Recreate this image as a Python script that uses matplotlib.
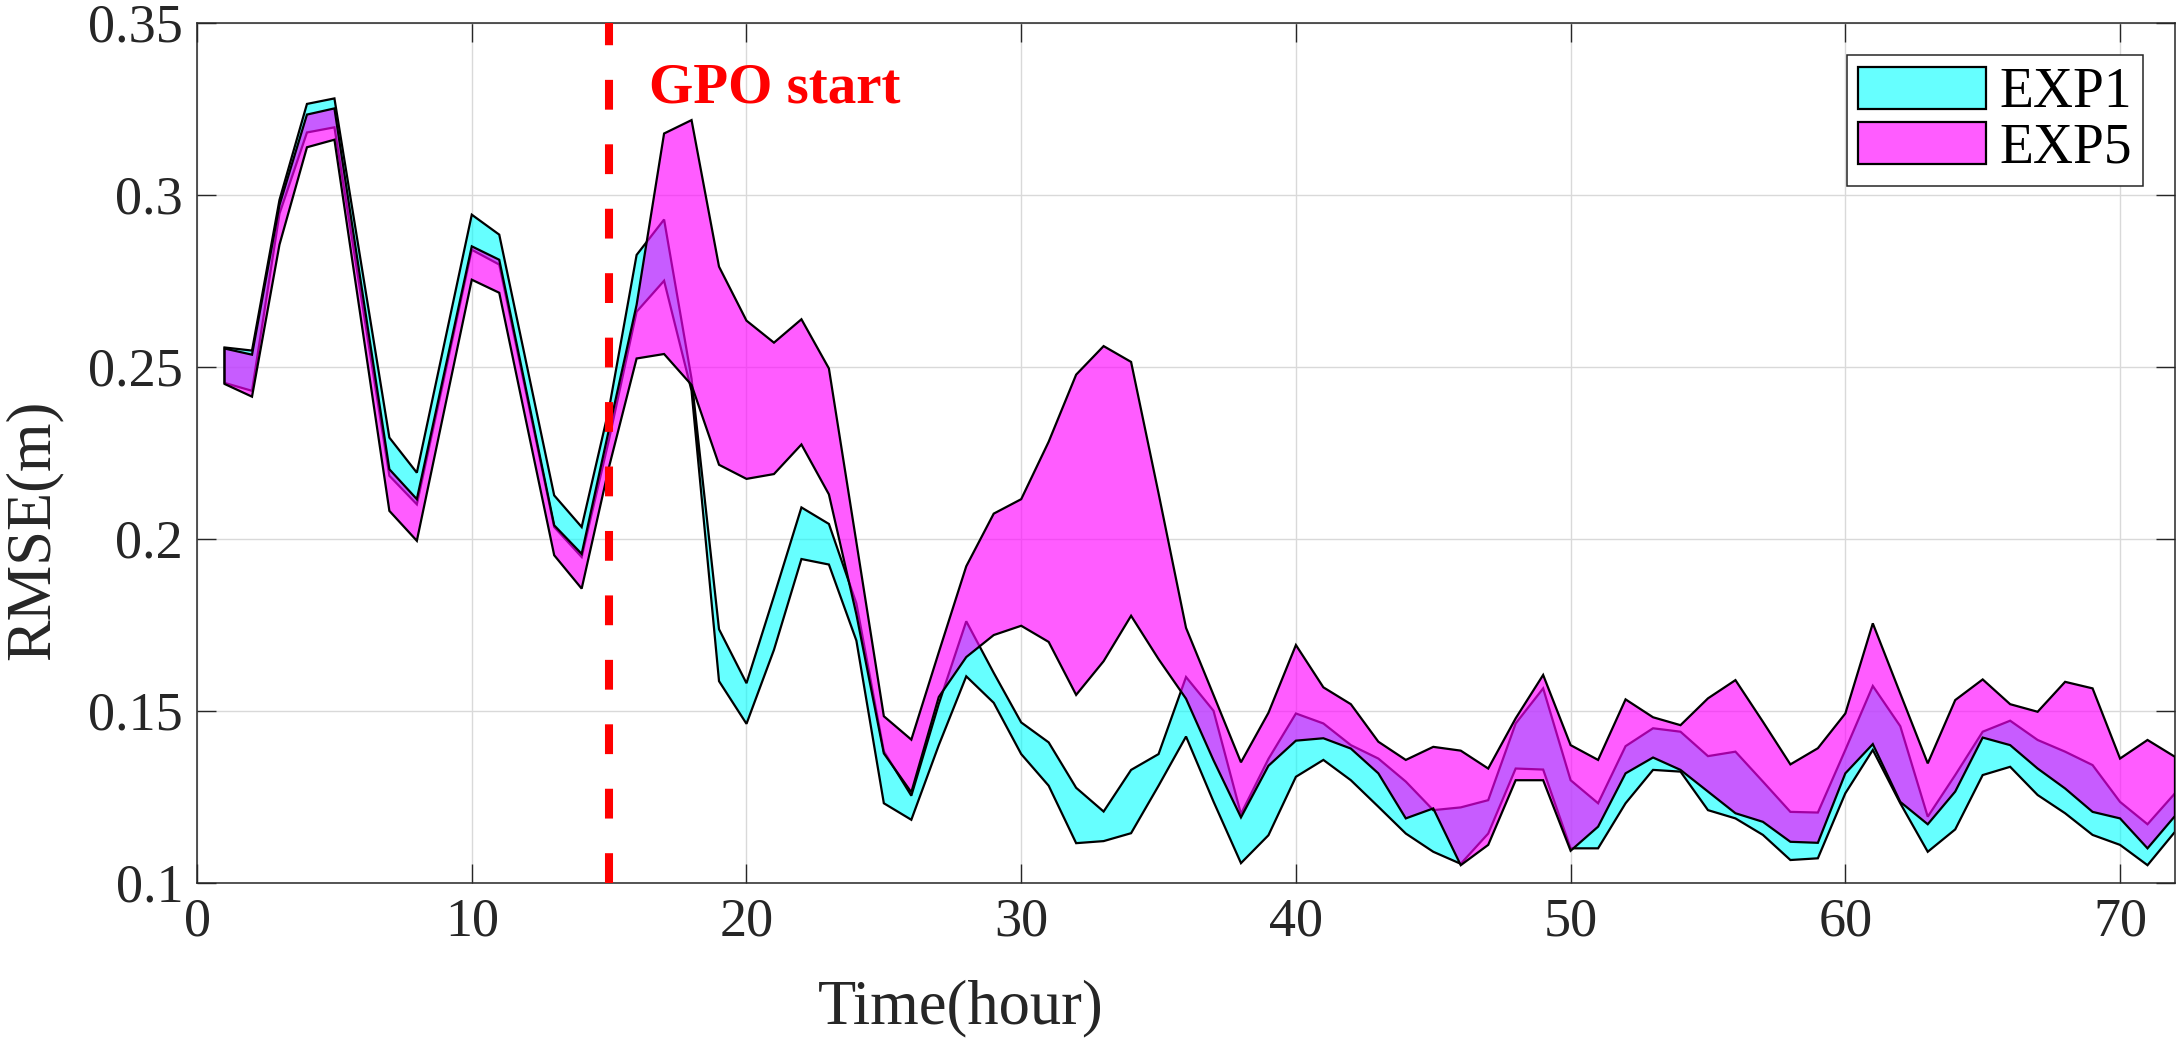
import matplotlib
matplotlib.use('Agg')
import matplotlib.pyplot as plt
import numpy as np

plt.rcParams['font.family'] = ['Liberation Serif', 'DejaVu Serif']

# hours
hours = np.arange(1, 73)

# EXP1 band (upper / lower RMSE)
exp1_upper = [0.2556, 0.2547, 0.2985, 0.3264, 0.3280, 0.2787, 0.2294, 0.2192, 0.2567, 0.2942,
              0.2884, 0.2505, 0.2126, 0.2034, 0.2380, 0.2825, 0.2928, 0.2465, 0.1737, 0.1580,
              0.1833, 0.2091, 0.2043, 0.1812, 0.1382, 0.1253, 0.1520, 0.1760, 0.1610, 0.1466,
              0.1408, 0.1276, 0.1207, 0.1328, 0.1374, 0.1598, 0.1500, 0.1200, 0.1360, 0.1492,
              0.1463, 0.1400, 0.1361, 0.1294, 0.1211, 0.1219, 0.1240, 0.1463, 0.1565, 0.1298,
              0.1231, 0.1397, 0.1449, 0.1439, 0.1368, 0.1381, 0.1294, 0.1206, 0.1204, 0.1386,
              0.1572, 0.1455, 0.1192, 0.1313, 0.1439, 0.1471, 0.1415, 0.1381, 0.1342, 0.1235,
              0.1170, 0.1260]
exp1_lower = [0.2453, 0.2430, 0.2945, 0.3181, 0.3196, 0.2690, 0.2183, 0.2100, 0.2470, 0.2840,
              0.2797, 0.2415, 0.2034, 0.1947, 0.2290, 0.2660, 0.2750, 0.2430, 0.1586, 0.1462,
              0.1677, 0.1941, 0.1925, 0.1704, 0.1231, 0.1183, 0.1400, 0.1600, 0.1523, 0.1374,
              0.1282, 0.1115, 0.1121, 0.1144, 0.1282, 0.1425, 0.1236, 0.1057, 0.1138, 0.1308,
              0.1357, 0.1298, 0.1221, 0.1143, 0.1090, 0.1055, 0.1143, 0.1332, 0.1329, 0.1100,
              0.1100, 0.1231, 0.1328, 0.1323, 0.1211, 0.1187, 0.1139, 0.1066, 0.1071, 0.1260,
              0.1386, 0.1231, 0.1090, 0.1155, 0.1313, 0.1337, 0.1255, 0.1202, 0.1139, 0.1110,
              0.1051, 0.1148]

# EXP5 band (upper / lower RMSE)
exp5_upper = [0.2553, 0.2535, 0.2970, 0.3233, 0.3251, 0.2726, 0.2202, 0.2115, 0.2483, 0.2850,
              0.2811, 0.2425, 0.2039, 0.1956, 0.2320, 0.2680, 0.3178, 0.3217, 0.2791, 0.2634,
              0.2570, 0.2638, 0.2495, 0.1990, 0.1484, 0.1416, 0.1670, 0.1920, 0.2073, 0.2115,
              0.2282, 0.2477, 0.2560, 0.2514, 0.2132, 0.1741, 0.1546, 0.1350, 0.1494, 0.1691,
              0.1568, 0.1519, 0.1410, 0.1357, 0.1395, 0.1384, 0.1332, 0.1478, 0.1604, 0.1400,
              0.1357, 0.1533, 0.1481, 0.1458, 0.1536, 0.1589, 0.1468, 0.1344, 0.1391, 0.1492,
              0.1754, 0.1550, 0.1347, 0.1531, 0.1591, 0.1519, 0.1497, 0.1584, 0.1565, 0.1361,
              0.1415, 0.1366]
exp5_lower = [0.2450, 0.2413, 0.2855, 0.3138, 0.3160, 0.2620, 0.2081, 0.1994, 0.2374, 0.2753,
              0.2715, 0.2333, 0.1952, 0.1855, 0.2210, 0.2524, 0.2537, 0.2447, 0.2215, 0.2174,
              0.2188, 0.2274, 0.2129, 0.1780, 0.1376, 0.1263, 0.1540, 0.1656, 0.1720, 0.1747,
              0.1700, 0.1546, 0.1644, 0.1776, 0.1650, 0.1535, 0.1356, 0.1190, 0.1340, 0.1413,
              0.1420, 0.1390, 0.1318, 0.1187, 0.1216, 0.1051, 0.1110, 0.1298, 0.1298, 0.1093,
              0.1163, 0.1318, 0.1364, 0.1328, 0.1265, 0.1202, 0.1177, 0.1119, 0.1116, 0.1318,
              0.1403, 0.1235, 0.1170, 0.1265, 0.1422, 0.1400, 0.1332, 0.1274, 0.1206, 0.1187,
              0.1100, 0.1194]

gpo_hour = 15
yticks = [0.1, 0.15, 0.2, 0.25, 0.3, 0.35]
ytick_labels = ['0.1', '0.15', '0.2', '0.25', '0.3', '0.35']
xticks = [0, 10, 20, 30, 40, 50, 60, 70]

fig = plt.figure(figsize=(21.8, 10.48), dpi=100)
ax = fig.add_axes([0.0904, 0.1577, 0.9073, 0.8206])

# bands drawn as closed polygons like MATLAB fill
xs = np.r_[hours, hours[::-1]]
ax.fill(xs, np.r_[exp1_upper, exp1_lower[::-1]], facecolor=(0, 1, 1, 0.6),
        edgecolor='k', linewidth=1.6, label='EXP1', zorder=2)
ax.fill(xs, np.r_[exp5_upper, exp5_lower[::-1]], facecolor=(1, 0, 1, 0.64),
        edgecolor='k', linewidth=1.6, label='EXP5', zorder=3)

ax.axvline(gpo_hour, color='#ff0000', linewidth=5.8, dashes=(3.7, 4.3), zorder=4)
ax.text(16.45, 0.3267, 'GPO start', color='#ff0000', fontsize=41, fontweight='bold',
        ha='left', va='baseline', zorder=5)

ax.set_xlim(0, 72)
ax.set_ylim(0.1, 0.35)
ax.set_xticks(xticks)
ax.set_yticks(yticks)
ax.set_yticklabels(ytick_labels)
ax.grid(True, color='#d9d9d9', linewidth=1.0)
ax.set_axisbelow(True)
ax.tick_params(direction='in', length=14, width=1.0, top=True, right=True,
               labelsize=39, colors='#262626', pad=10)
for s in ax.spines.values():
    s.set_color('#262626')
    s.set_linewidth(1.1)

ax.set_xlabel('Time(hour)', fontsize=45, color='#262626')
ax.set_ylabel('RMSE(m)', fontsize=45, color='#262626')
ax.xaxis.set_label_coords(0.386, -0.112)
ax.yaxis.set_label_coords(-0.068, 0.41)

leg = ax.legend(loc='upper right', bbox_to_anchor=(0.984, 0.962), borderaxespad=0,
                fontsize=40, fancybox=False, framealpha=1, edgecolor='#262626',
                handlelength=2.3, handleheight=0.8, handletextpad=0.25,
                borderpad=0.2, labelspacing=0.05)
leg.get_frame().set_linewidth(1.1)

fig.savefig('out.png', dpi=100)
